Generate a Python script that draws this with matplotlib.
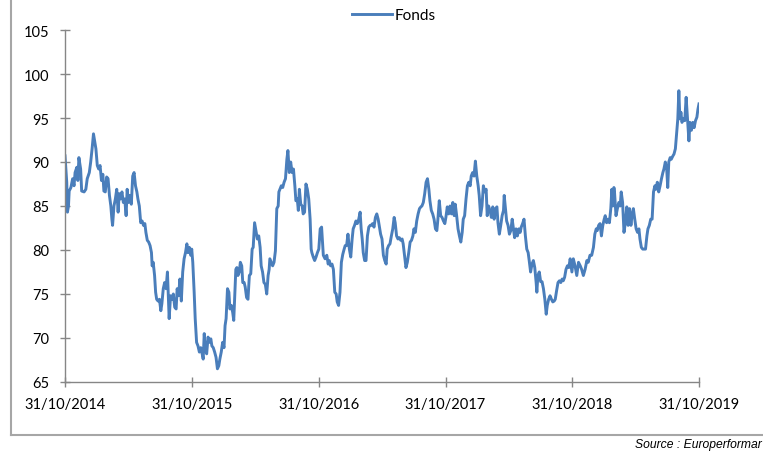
import datetime
import pandas as pd
import matplotlib
import matplotlib.pyplot as plt
import matplotlib.dates as mdates
from matplotlib.lines import Line2D

matplotlib.use('Agg')

# days after 31/10/2014 and fund value
days = [0, 5, 7, 10, 12, 17, 22, 26, 29, 34, 37, 40, 45, 48, 55, 60, 64, 70, 74, 78,
        82, 86, 89, 93, 97, 101, 105, 109, 112, 116, 120, 124, 128, 132, 135, 137, 141, 145, 149, 153,
        156, 160, 164, 168, 172, 176, 179, 183, 187, 191, 195, 199, 203, 207, 210, 214, 218, 222, 226, 230,
        233, 237, 241, 245, 249, 251, 254, 258, 261, 264, 268, 272, 276, 279, 283, 287, 291, 295, 298, 300,
        304, 308, 312, 316, 320, 323, 327, 331, 335, 339, 343, 347, 351, 354, 358, 362, 365, 368, 372, 375,
        379, 383, 387, 391, 395, 398, 401, 404, 408, 412, 416, 420, 423, 427, 431, 435, 439, 443, 446, 450,
        454, 458, 461, 464, 468, 472, 475, 479, 483, 486, 489, 492, 495, 498, 502, 505, 509, 512, 516, 519,
        523, 527, 531, 535, 539, 542, 546, 550, 554, 558, 562, 565, 569, 573, 577, 581, 585, 588, 590, 594,
        598, 602, 606, 610, 614, 616, 619, 623, 627, 631, 635, 639, 642, 646, 650, 654, 658, 662, 665, 669,
        672, 675, 679, 683, 686, 690, 694, 698, 702, 706, 709, 711, 715, 719, 723, 727, 731, 735, 739, 744,
        749, 754, 758, 761, 765, 769, 773, 777, 781, 784, 788, 792, 796, 800, 804, 807, 811, 815, 819, 823,
        827, 830, 834, 838, 842, 846, 850, 853, 856, 859, 863, 867, 871, 875, 879, 882, 886, 890, 894, 898,
        902, 905, 909, 913, 917, 921, 925, 928, 932, 936, 940, 944, 948, 951, 955, 959, 963, 967, 971, 974,
        978, 982, 986, 990, 994, 998, 1002, 1005, 1009, 1013, 1017, 1021, 1025, 1028, 1032, 1036, 1040, 1044, 1048, 1051,
        1055, 1059, 1063, 1067, 1071, 1074, 1078, 1082, 1086, 1090, 1094, 1097, 1101, 1105, 1109, 1113, 1117, 1121, 1124, 1128,
        1132, 1136, 1140, 1144, 1147, 1151, 1155, 1159, 1163, 1167, 1170, 1174, 1178, 1182, 1186, 1190, 1193, 1197, 1201, 1205,
        1209, 1213, 1216, 1220, 1224, 1228, 1232, 1236, 1240, 1244, 1247, 1251, 1255, 1259, 1263, 1265, 1268, 1272, 1276, 1280,
        1284, 1288, 1291, 1295, 1299, 1303, 1307, 1311, 1314, 1318, 1322, 1326, 1330, 1334, 1337, 1341, 1345, 1349, 1353, 1357,
        1359, 1362, 1366, 1370, 1374, 1378, 1382, 1386, 1389, 1393, 1397, 1401, 1405, 1409, 1412, 1416, 1420, 1424, 1428, 1432,
        1435, 1439, 1443, 1447, 1451, 1455, 1460, 1464, 1469, 1474, 1479, 1484, 1488, 1493, 1498, 1503, 1507, 1512, 1517, 1522,
        1526, 1530, 1533, 1537, 1541, 1545, 1549, 1553, 1556, 1560, 1564, 1568, 1572, 1575, 1578, 1581, 1583, 1587, 1591, 1595,
        1599, 1602, 1606, 1610, 1614, 1618, 1622, 1626, 1630, 1633, 1637, 1641, 1645, 1649, 1653, 1656, 1660, 1664, 1668, 1672,
        1676, 1679, 1683, 1687, 1691, 1695, 1699, 1702, 1706, 1710, 1714, 1718, 1722, 1725, 1729, 1733, 1736, 1739, 1743, 1746,
        1751, 1754, 1758, 1762, 1765, 1768, 1771, 1774, 1777, 1781, 1785, 1789, 1793, 1797, 1800, 1804, 1808, 1812, 1816, 1820,
        1823, 1826]

fonds = [90.7, 87.7, 84.3, 85.0, 86.7, 87.1, 88.1, 87.3, 88.8, 89.4, 87.9, 90.5, 89.2, 86.7, 86.6, 86.9, 88.1, 88.8, 90.0, 91.5,
         93.2, 92.2, 91.5, 89.6, 89.2, 89.6, 87.9, 88.6, 86.7, 86.6, 88.3, 88.1, 86.2, 85.0, 83.5, 82.8, 85.0, 85.8, 86.9, 84.3,
         86.4, 85.8, 86.6, 85.4, 85.8, 83.9, 86.9, 85.4, 86.2, 85.2, 88.4, 88.8, 87.3, 86.6, 85.8, 85.0, 83.1, 83.3, 82.8, 83.0,
         82.0, 81.1, 80.9, 80.5, 79.7, 78.2, 78.6, 77.1, 75.2, 74.4, 74.2, 74.4, 73.1, 73.9, 75.6, 76.3, 75.6, 77.5, 74.4, 72.2,
         74.8, 74.4, 75.0, 73.5, 73.3, 75.6, 74.8, 76.7, 74.2, 77.5, 79.0, 79.7, 80.7, 79.7, 80.3, 79.4, 80.1, 78.6, 75.2, 72.2,
         69.5, 69.1, 68.4, 68.9, 68.2, 67.6, 70.5, 68.75, 68.2, 70.1, 69.5, 69.9, 69.1, 68.9, 68.4, 67.8, 66.5, 66.85, 67.6, 68.4,
         69.5, 68.9, 71.4, 72.2, 75.6, 75.2, 73.3, 73.7, 72.9, 72.0, 74.8, 77.8, 78.0, 77.1, 77.5, 78.6, 78.2, 76.3, 76.3, 75.8,
         74.6, 74.4, 77.1, 77.3, 80.1, 80.3, 83.1, 82.2, 81.25, 81.6, 80.3, 78.2, 77.5, 76.3, 76.1, 75.0, 77.1, 77.8, 79.0, 78.6,
         78.2, 78.6, 79.9, 84.7, 85.0, 86.6, 86.9, 87.3, 87.1, 87.7, 88.1, 90.3, 91.3, 88.8, 90.0, 88.8, 89.2, 87.3, 85.6, 85.8,
         84.5, 86.9, 85.2, 85.0, 84.1, 84.3, 87.5, 86.9, 85.8, 83.5, 80.1, 79.7, 79.2, 78.8, 79.2, 79.7, 80.1, 82.4, 82.6, 79.4,
         79.0, 79.4, 78.4, 78.8, 78.2, 78.4, 77.8, 75.2, 75.0, 74.1, 73.7, 75.2, 78.6, 79.5, 80.1, 80.5, 80.5, 81.8, 80.1, 79.2,
         81.25, 82.4, 82.8, 83.3, 83.0, 83.5, 84.3, 82.4, 81.25, 79.7, 78.8, 78.8, 81.6, 82.6, 82.8, 82.8, 83.0, 82.6, 83.7, 84.1,
         83.5, 82.8, 81.8, 81.25, 79.4, 78.8, 78.4, 80.1, 80.5, 80.7, 81.6, 82.4, 83.7, 83.1, 81.6, 81.25, 81.4, 81.1, 81.25, 80.7,
         79.4, 78.0, 78.6, 79.7, 80.9, 81.1, 81.6, 82.4, 82.0, 83.3, 84.1, 84.7, 84.9, 85.0, 85.4, 86.4, 87.7, 88.1, 86.9, 85.6,
         84.5, 84.1, 83.5, 82.4, 82.2, 83.5, 85.6, 83.9, 83.7, 83.3, 83.0, 83.7, 84.9, 84.1, 85.0, 84.1, 85.4, 83.9, 85.2, 83.9,
         82.4, 81.6, 80.9, 82.0, 83.5, 83.9, 85.8, 87.3, 87.7, 87.3, 88.4, 88.8, 88.4, 90.1, 88.4, 87.3, 86.2, 83.9, 85.0, 87.3,
         86.6, 86.9, 83.9, 85.0, 84.5, 83.7, 84.9, 83.5, 84.7, 84.9, 83.1, 81.8, 82.8, 83.9, 84.5, 86.2, 85.0, 83.3, 82.8, 81.8,
         82.2, 83.5, 82.6, 81.4, 82.4, 81.6, 82.4, 82.0, 82.6, 83.0, 83.5, 81.6, 80.1, 79.7, 78.8, 77.5, 78.4, 78.8, 78.0, 76.3,
         75.2, 77.1, 77.5, 76.4, 76.4, 75.6, 74.4, 72.7, 73.7, 74.4, 74.8, 74.4, 74.1, 74.2, 74.4, 75.4, 76.3, 76.5, 76.3, 76.7,
         76.5, 76.9, 77.8, 78.2, 78.0, 79.0, 77.5, 79.0, 78.2, 77.1, 78.6, 78.2, 77.8, 77.1, 77.8, 78.8, 78.6, 79.4, 79.4, 80.3,
         81.8, 82.4, 82.2, 82.8, 83.0, 81.6, 82.8, 83.5, 83.9, 83.1, 83.5, 83.1, 84.7, 86.9, 85.0, 87.1, 86.4, 83.9, 84.7, 85.4,
         85.0, 86.6, 85.4, 82.0, 83.1, 84.9, 82.8, 84.7, 82.8, 83.9, 84.7, 83.5, 82.4, 82.0, 82.4, 81.25, 80.3, 80.1, 80.1, 80.1,
         81.6, 82.4, 82.8, 83.5, 83.5, 86.6, 87.3, 86.9, 87.7, 86.6, 87.3, 88.1, 88.8, 89.2, 90.0, 89.2, 87.1, 90.0, 90.5, 90.3,
         90.7, 90.9, 91.5, 93.4, 94.9, 98.1, 94.9, 95.65, 94.5, 94.9, 94.7, 97.35, 94.9, 92.4, 94.5, 93.6, 94.5, 93.9, 94.7, 95.1,
         96.0, 96.6]

start = datetime.datetime(2014, 10, 31)
dates = pd.Timestamp(start) + pd.to_timedelta(days, unit='D')
tick_dates = [datetime.datetime(y, 10, 31) for y in range(2014, 2020)]

blue = '#4A7EBB'
grey = '#868686'

plt.rcParams['font.family'] = ['Lato', 'DejaVu Sans']

fig = plt.figure(figsize=(7.63, 4.52), dpi=100)
ax = fig.add_axes([0.0852, 0.1527, 0.8309, 0.7787])

ax.plot(dates, fonds, color=blue, lw=2.1, label='Fonds')

ax.set_xlim(start, datetime.datetime(2019, 10, 31))
ax.set_ylim(65, 105)
ax.set_yticks(range(65, 106, 5))
ax.set_xticks(tick_dates)
ax.xaxis.set_major_formatter(mdates.DateFormatter('%d/%m/%Y'))

for side in ['top', 'right']:
    ax.spines[side].set_visible(False)
for side in ['left', 'bottom']:
    ax.spines[side].set_color(grey)
    ax.spines[side].set_linewidth(1.0)
ax.tick_params(axis='both', direction='inout', length=7, width=1.0, color=grey,
               labelsize=10.5, labelcolor='black')
ax.tick_params(axis='y', pad=8)
ax.tick_params(axis='x', pad=7)

fig.legend(loc='center', bbox_to_anchor=(394 / 763, 1 - 16 / 452), frameon=False,
           fontsize=11, handlelength=2.6, handletextpad=0.15, borderpad=0.2)

# outer frame: left and bottom border of the chart area
frame_col = '#A6A6A6'
fig.add_artist(Line2D([11 / 763, 11 / 763], [1.0, 1 - 436 / 452], color=frame_col, lw=1.5))
fig.add_artist(Line2D([11 / 763, 1.0], [1 - 436 / 452, 1 - 436 / 452], color=frame_col, lw=1.5))

# source line is cut at the right edge in the original, keep what shows
fig.text(762 / 763, 1 - 445 / 452, 'Source : Europerformar', fontsize=8.7, style='italic',
         family='Liberation Sans', ha='right', va='center')

fig.savefig('out.png', dpi=100)
